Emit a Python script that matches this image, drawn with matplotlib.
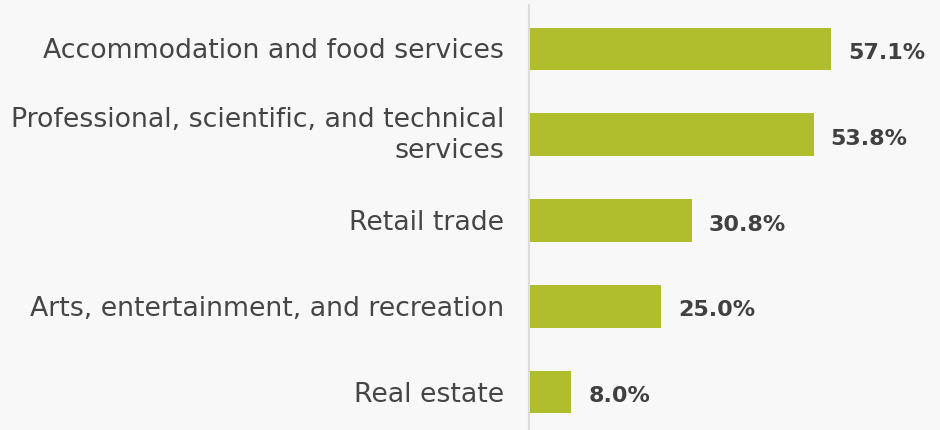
import matplotlib
matplotlib.use("Agg")
import matplotlib.pyplot as plt

categories = [
    "Accommodation and food services",
    "Professional, scientific, and technical\nservices",
    "Retail trade",
    "Arts, entertainment, and recreation",
    "Real estate",
]
values = [57.1, 53.8, 30.8, 25.0, 8.0]
value_labels = ["57.1%", "53.8%", "30.8%", "25.0%", "8.0%"]

bg = "#f8f8f8"
bar_color = "#b0bd2d"
text_color = "#404040"
label_color = "#454545"

plt.rcParams["font.family"] = ["DejaVu Sans"]

fig = plt.figure(figsize=(9.4, 4.3), dpi=100, facecolor=bg)
ax = fig.add_axes([529 / 940, 0, 411 / 940, 425 / 430], facecolor=bg)

y = list(range(len(categories)))
ax.barh(y, values, height=0.5, color=bar_color, zorder=2)

ax.set_xlim(0, 411 / 5.29)
ax.set_ylim(4.443, -0.513)
ax.set_xticks([])
ax.set_yticks([])

for s in ["top", "right", "bottom"]:
    ax.spines[s].set_visible(False)
ax.spines["left"].set_color("#dcdcdc")
ax.spines["left"].set_linewidth(1.5)

# Category names, right-aligned left of the axis line, one text per line
line_step = 30.6   # px between baselines
half_cap = 9.5     # px from bar centre down to baseline
for yi, name in zip(y, categories):
    lines = name.split("\n")
    n = len(lines)
    for k, line in enumerate(lines):
        dy = half_cap + (k - (n - 1) / 2) * line_step - (n - 1) * 2
        ax.annotate(line, xy=(0, yi), xytext=(-25, -dy),
                    textcoords="offset pixels", ha="right", va="baseline",
                    fontsize=19.3, color=label_color, annotation_clip=False)

# Value labels at the end of each bar
for yi, v, lab in zip(y, values, value_labels):
    ax.annotate(lab, xy=(v, yi), xytext=(17, -10), textcoords="offset pixels",
                va="baseline", ha="left", fontsize=16, fontweight="bold",
                color=text_color, annotation_clip=False)

fig.savefig("out.png", dpi=100, facecolor=bg)
